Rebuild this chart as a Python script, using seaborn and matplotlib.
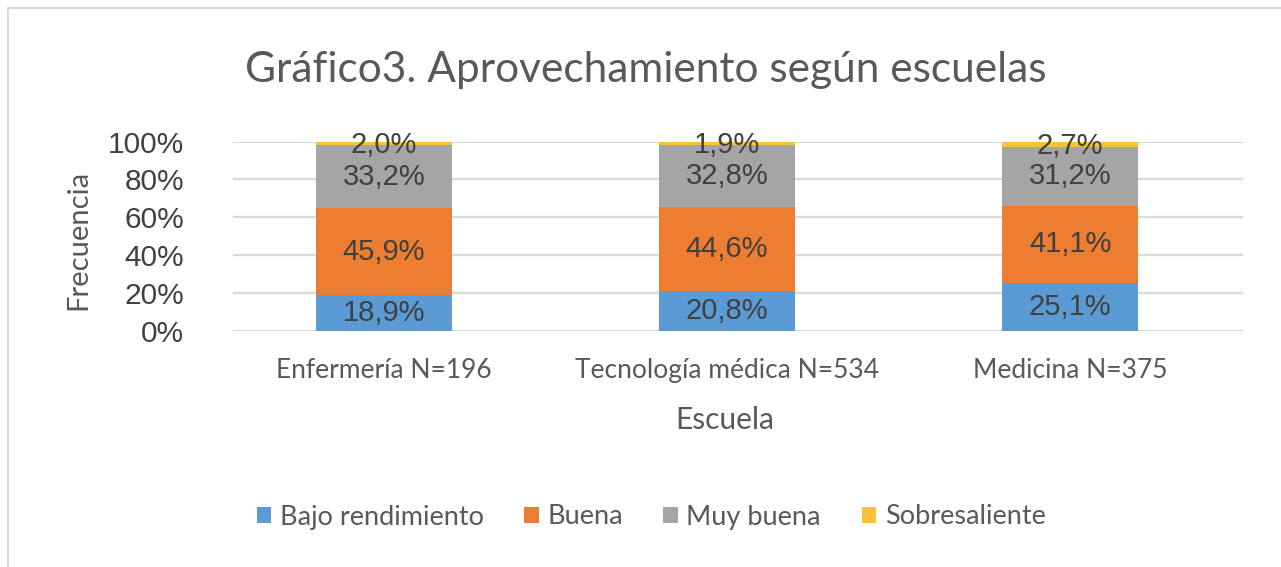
import matplotlib
matplotlib.use("Agg")
import matplotlib.pyplot as plt
import seaborn as sns
import pandas as pd
import numpy as np
from matplotlib.lines import Line2D
from matplotlib.patches import Patch

categories = ["Enfermería N=196", "Tecnología médica N=534", "Medicina N=375"]
series = ["Bajo rendimiento", "Buena", "Muy buena", "Sobresaliente"]
bajo = [18.9, 20.8, 25.1]
buena = [45.9, 44.6, 41.1]
muy_buena = [33.2, 32.8, 31.2]
sobresaliente = [2.0, 1.9, 2.7]
colors = ["#5B9BD5", "#ED7D31", "#A5A5A5", "#FBC03C"]
yticks = [0, 20, 40, 60, 80, 100]

values = [bajo, buena, muy_buena, sobresaliente]

sns.set_theme(style="white")
plt.rcParams['font.family'] = ['Liberation Sans', 'DejaVu Sans']

W, H = 1281, 567
fig = plt.figure(figsize=(W / 100, H / 100), dpi=100)
ax = fig.add_axes([233 / W, 1 - 330.7 / H, 1010 / W, 189 / H])

# stacked bars: draw cumulative totals from top layer downward
cum = np.cumsum(np.array(values), axis=0)
for i in reversed(range(len(series))):
    df = pd.DataFrame({"cat": categories, "val": np.minimum(cum[i], 100.0)})
    sns.barplot(data=df, x="cat", y="val", color=colors[i], width=0.3965,
                saturation=1, ax=ax, zorder=2, linewidth=0)

# data labels
for i in range(len(series)):
    bottoms = cum[i] - np.array(values[i])
    for j, cat in enumerate(categories):
        v = values[i][j]
        yc = bottoms[j] + v / 2
        if i == 3:
            yc = min(bottoms[j] + v / 2, 99.0) - 1.0
        ax.text(j, yc, f"{v:.1f}%".replace(".", ","), ha="center", va="center",
                fontsize=21, color="#404040", zorder=5)

ax.set_xlim(-0.44, 2.504)
ax.set_ylim(0, 100)
ax.set_yticks(yticks)
ax.set_yticklabels([f"{t}%" for t in yticks], fontsize=21.5, color="#404040")
ax.yaxis.grid(True, color="#D9D9D9", linewidth=1.6, zorder=0)
ax.set_axisbelow(True)
for s in ax.spines.values():
    s.set_visible(False)
ax.tick_params(axis="y", length=0, pad=35)
ax.tick_params(axis="x", length=0, pad=20)
ax.set_xticks(range(len(categories)))
ax.set_xticklabels(categories, fontsize=19, color="#595959", family=["Lato", "DejaVu Sans"])
ax.set_xlabel("")
ax.set_ylabel("")

fig.text(0.504, 1 - 70 / H, "Gráfico3. Aprovechamiento según escuelas", ha="center", va="center",
         fontsize=30.5, color="#595959", family=["Lato", "DejaVu Sans"])
fig.text(78 / W, 1 - 240 / H, "Frecuencia", rotation=90, ha="center", va="center",
         fontsize=21, color="#595959", family=["Lato", "DejaVu Sans"])
fig.text(725 / W, 1 - 420 / H, "Escuela", ha="center", va="center",
         fontsize=21.5, color="#595959", family=["Lato", "DejaVu Sans"])

handles = [Patch(facecolor=c, edgecolor="none") for c in colors]
leg = fig.legend(handles, series, loc="center", bbox_to_anchor=(651 / W, 1 - 517 / H), ncol=4,
                 frameon=False, handlelength=0.55, handleheight=0.55,
                 handletextpad=0.3, columnspacing=1.5,
                 prop={"family": ["Lato", "DejaVu Sans"], "size": 19.5})
for t in leg.get_texts():
    t.set_color("#595959")

# outer chart border (left and top visible)
fig.add_artist(Line2D([7.5 / W, 7.5 / W], [0, 1 - 7.5 / H], transform=fig.transFigure,
                      color="#D9D9D9", linewidth=1.5))
fig.add_artist(Line2D([7.5 / W, 1], [1 - 7.5 / H, 1 - 7.5 / H], transform=fig.transFigure,
                      color="#D9D9D9", linewidth=1.5))

fig.savefig("out.png", dpi=100)
